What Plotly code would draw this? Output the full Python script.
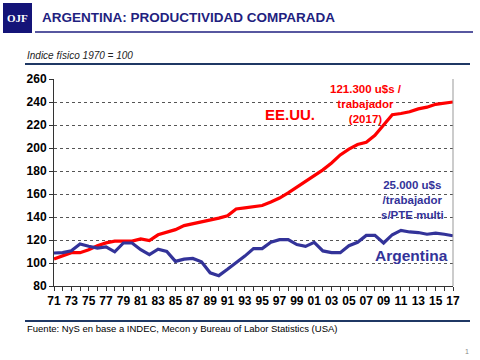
import plotly.graph_objects as go

years = list(range(1971, 2018))
tick_vals = list(range(1971, 2018, 2))
tick_text = [f"{y % 100:02d}" for y in tick_vals]

eeuu = [103.5, 106.5, 109, 109, 111.5, 115, 117.5, 119, 119, 119, 121, 119.5, 124.5, 127, 129,
        132.5, 134, 136, 137, 139, 141, 147, 148, 149, 150, 153, 156.5, 161, 166, 170.5,
        175.5, 181, 187, 194, 199, 203, 205, 211, 220, 229, 230, 231.5, 234, 235.5, 238, 239, 240]
argentina = [108.7, 109, 110.7, 116.5, 114.6, 113, 114, 109.7, 117.4, 117.4, 111.6, 107.3, 112, 110,
             101.4, 103.4, 104, 101, 91.5, 89, 94.5, 100, 106, 112.5, 112.5, 118, 120.3, 120.3, 116,
             114.5, 118, 110.5, 109, 109, 115, 118, 124, 124, 117.4, 124.6, 128.4, 127, 126.5,
             125, 126, 125, 123.7]

NAVY = "#1f1f80"
BLUE = "#333399"
RED = "#ff0000"
FONT = "Liberation Sans, Arial, sans-serif"

L, R, T, B = 54, 453, 79, 286


def px(x):
    return (x - L) / (R - L)


def py(y):
    return (B - y) / (B - T)


fig = go.Figure()
fig.add_trace(go.Scatter(x=years, y=eeuu, mode="lines", line=dict(color=RED, width=3.2), showlegend=False))
fig.add_trace(go.Scatter(x=years, y=argentina, mode="lines", line=dict(color=BLUE, width=3.2), showlegend=False))

fig.update_layout(
    width=480, height=360,
    margin=dict(l=L, r=480 - R, t=T, b=360 - B),
    paper_bgcolor="white", plot_bgcolor="white",
    font=dict(family=FONT, color="black"),
    xaxis=dict(range=[1971, 2017], tickvals=tick_vals, ticktext=tick_text,
               tickfont=dict(size=12, family=FONT, color="black", weight="bold"),
               showgrid=False, showline=True, linecolor="#333", linewidth=1,
               ticks="outside", ticklen=4, tickcolor="#333",
               minor=dict(dtick=1, tick0=1971, ticks="outside", ticklen=4, tickcolor="#333"),
               zeroline=False),
    yaxis=dict(range=[80, 260], dtick=20, tickfont=dict(size=12, family=FONT, color="black", weight="bold"),
               showgrid=True, gridcolor="#555", griddash="dot", gridwidth=1,
               showline=True, linecolor="#333", linewidth=1,
               ticks="outside", ticklen=4, tickcolor="#333", zeroline=False),
)

shapes = []
shapes.append(dict(type="line", xref="paper", yref="paper", x0=1, x1=1, y0=0, y1=1,
                   line=dict(color="#999", width=1)))
shapes.append(dict(type="rect", xref="paper", yref="paper", x0=px(3), x1=px(32), y0=py(33), y1=py(3),
                   fillcolor="#141478", line=dict(width=0)))
shapes.append(dict(type="line", xref="paper", yref="paper", x0=px(35), x1=px(473), y0=py(32), y1=py(32),
                   line=dict(color=NAVY, width=1.5)))
shapes.append(dict(type="line", xref="paper", yref="paper", x0=px(25), x1=px(470), y0=py(64), y1=py(64),
                   line=dict(color="#1f3864", width=2)))
shapes.append(dict(type="line", xref="paper", yref="paper", x0=px(25), x1=px(470), y0=py(321), y1=py(321),
                   line=dict(color="#1f3864", width=2)))
fig.update_layout(shapes=shapes)

ann = []


def add(x, y, text, size, color, family=FONT, xanchor="center"):
    ann.append(dict(x=px(x), y=py(y), xref="paper", yref="paper", text=text, showarrow=False,
                    xanchor=xanchor, yanchor="middle", align="center",
                    font=dict(family=family, size=size, color=color)))


add(17.5, 18, "<b>OJF</b>", 11, "white", family="Liberation Serif, Times New Roman, serif")
add(40, 17, "<b>ARGENTINA: PRODUCTIVIDAD COMPARADA</b>", 13.5, NAVY, xanchor="left")
add(25, 56, "<i>Indice físico 1970 = 100</i>", 10, "#222", xanchor="left")
add(25, 328, "Fuente: NyS en base a INDEC, Mecon y Bureau of Labor Statistics (USA)", 9.5, "black", xanchor="left")
add(467, 351, "1", 7, "#888")
add(290, 114, "<b>EE.UU.</b>", 15, RED)
add(366, 104, "<b>121.300 u$s /<br>trabajador<br>(2017)</b>", 11.5, RED)
add(412, 200, "<b>25.000 u$s<br>/trabajador<br>s/PTE multi</b>", 11.5, BLUE)
add(411, 255, "<b>Argentina</b>", 15.5, BLUE)
fig.update_layout(annotations=ann)

fig.write_html("out.html", post_script="document.body.style.margin='0';",
               config={"displayModeBar": False})
